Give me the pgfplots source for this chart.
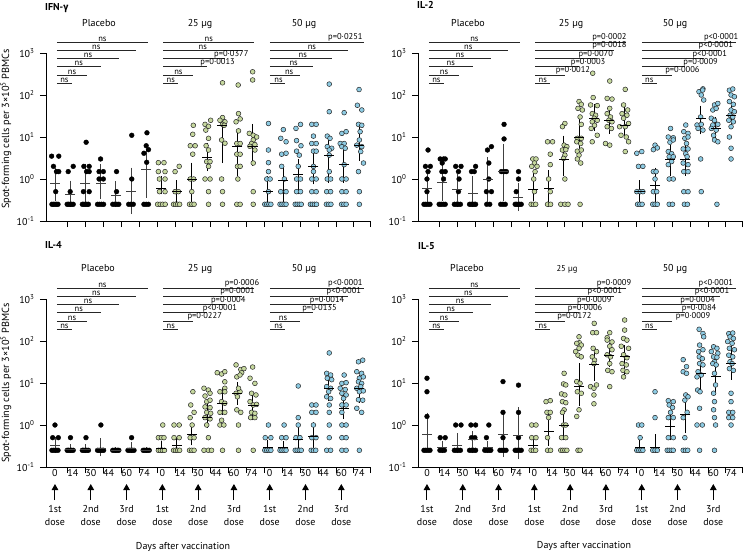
\documentclass[border=0pt]{standalone}
\usepackage{pgfplots}
\pgfplotsset{compat=1.18}
\usepackage{pgfplotstable}
\usetikzlibrary{arrows.meta}
\usepackage{fontspec}
\setmainfont{PT Sans}
\newfontfamily\gam{Fira Sans}
\definecolor{vgreen}{HTML}{C6D89E}
\definecolor{vblue}{HTML}{8DCBE3}

\pgfplotstableread{
x med lo hi
0 0.8 0.35 1.6
1 0.42 0.25 0.78
2 0.8 0.32 2
3 0.8 0.4 1.9
4 0.4 0.25 0.75
5 0.5 0.17 1.6
6 1.7 0.42 4.5
7 0.6 0.5 1
8 0.5 0.3 0.8
9 1 0.25 2.1
10 3.2 1.8 6.2
11 19 2.8 21
12 6 1.35 10.8
13 6 2.4 17.6
14 0.5 0.25 1
15 0.9 0.32 1.6
16 1.3 0.5 2.5
17 2 0.87 4.5
18 3.7 0.95 10.2
19 2.2 0.95 6.5
20 6.2 3.2 14.6
}\medIFN

\pgfplotstableread{
x med lo hi
0 0.6 0.28 1.4
1 0.85 0.35 2.2
2 0.57 0.25 1.1
3 0.45 0.25 1
4 1 0.33 2.9
5 1.5 0.35 5.9
6 0.36 0.2 0.68
7 0.55 0.35 1.25
8 0.6 0.25 1.4
9 3 1.4 9.3
10 10 5 25
11 28 16 52
12 25 14 45
13 19 11 45
14 0.5 0.32 0.8
15 0.7 0.32 1.6
16 3 1.4 5.5
17 3 1.4 6
18 28 13.4 48
19 16 10 26
20 33 18 60
}\medILtwo

\pgfplotstableread{
x med lo hi
0 0.33 0.25 0.45
1 0.26 0.25 0.3
2 0.26 0.25 0.3
3 0.27 0.21 0.42
4 0.25 0.25 0.25
5 0.27 0.25 0.33
6 0.25 0.25 0.25
7 0.28 0.25 0.35
8 0.33 0.25 0.45
9 0.6 0.38 0.9
10 1.5 1 3.2
11 3.2 2 6.5
12 5.5 3.5 9
13 3 1.5 4.5
14 0.3 0.25 0.37
15 0.3 0.25 0.36
16 0.45 0.25 0.75
17 0.52 0.3 1
18 7.5 4.3 11
19 2.5 1.6 4.5
20 7.5 4 13
}\medILfour

\pgfplotstableread{
x med lo hi
0 0.6 0.28 1.7
1 0.3 0.25 0.36
2 0.33 0.25 0.55
3 0.45 0.25 0.62
4 0.3 0.25 0.35
5 0.6 0.2 2
6 0.55 0.18 2.3
7 0.33 0.28 0.4
8 0.7 0.37 2
9 1 0.5 2.2
10 8.5 3.3 25
11 28 13 55
12 45 28 75
13 42 15 68
14 0.3 0.25 0.38
15 0.3 0.25 0.52
16 0.9 0.5 1.5
17 1.8 0.75 4
18 17 6.5 38
19 14 6 32
20 30 14 65
}\medILfive

\pgfplotsset{
  scale only axis, width=324pt, height=182.7pt,
  ymin=0.1, ymax=2238.7, xmin=-0.59, xmax=20.72,
  axis x line*=bottom, axis y line*=left, axis line style={draw=none},
  ytick={0.1,1,10,100,1000},
  yticklabels={10\textsuperscript{-1},10\textsuperscript{0},10\textsuperscript{1},10\textsuperscript{2},10\textsuperscript{3}},
  yminorticks=false, xminorticks=false,
  tick align=outside, major tick length=6pt,
  tick style={black, line width=0.8pt},
  xtick={0.827,2.004,3.181,4.358,5.535,6.712,7.889,9.066,10.243,11.42,12.597,13.774,14.951,16.128,17.305,18.482,19.659,20.72},
  xticklabels={},
  yticklabel style={font=\fontsize{10}{12}\selectfont, xshift=-2pt},
  clip=false,
  ptsPL/.style={only marks, mark=*, mark size=2.4pt, mark options={fill=black, draw=black, line width=0.4pt}},
  ptsGR/.style={only marks, mark=*, mark size=2.4pt, mark options={fill=vgreen, draw=black!85, line width=0.5pt}},
  ptsBL/.style={only marks, mark=*, mark size=2.4pt, mark options={fill=vblue, draw=black!85, line width=0.5pt}},
  medBarStyle/.style={only marks, mark=-, mark size=5pt, mark options={line width=0.9pt},
    error bars/y dir=both, error bars/y explicit, error bars/error mark=-,
    error bars/error mark options={mark size=2.8pt, line width=0.8pt},
    error bars/error bar style={line width=0.8pt}},
}

\newcommand\axlines{%
  \draw[black, line width=0.8pt] (axis cs:-0.59,0.1) -- (axis cs:20.72,0.1);
  \draw[black, line width=0.8pt] (axis cs:-0.59,0.1) -- (axis cs:-0.59,1000);}
\newcommand\meds[1]{%
  \addplot[black!75, skip coords between index={7}{21}, medBarStyle] table[x=x, y=med, y error plus expr=\thisrow{hi}-\thisrow{med}, y error minus expr=\thisrow{med}-\thisrow{lo}] {#1};
  \addplot[black, skip coords between index={0}{7}, medBarStyle] table[x=x, y=med, y error plus expr=\thisrow{hi}-\thisrow{med}, y error minus expr=\thisrow{med}-\thisrow{lo}] {#1};}
\newcommand\sigl[5]{%
  \draw[black!85, line width=0.8pt] (axis cs:#1,#3) -- (axis cs:#2,#3);
  \node[anchor=south, inner sep=0.6pt, font=\fontsize{8.5}{9}\selectfont] at (axis cs:#4,#3) {#5};}
\newcommand\placebosig{%
  \sigl{0.13}{6.1}{1820}{3.12}{ns}
  \sigl{0.13}{5.3}{1150}{2.72}{ns}
  \sigl{0.13}{4.2}{733}{2.17}{ns}
  \sigl{0.13}{3.0}{468}{1.57}{ns}
  \sigl{0.13}{2.1}{295}{1.12}{ns}
  \sigl{0.13}{1.1}{188}{0.62}{ns}}
\newcommand\dosearr[2]{%
  \draw[black, line width=1pt, -{Triangle[width=6.5pt,length=6pt]}] ([yshift=-33pt]axis cs:#1,0.1) -- ([yshift=-17pt]axis cs:#1,0.1);
  \node[anchor=base, inner sep=0pt] at ([yshift=-45pt]axis cs:#1,0.1) {#2};
  \node[anchor=base, inner sep=0pt] at ([yshift=-58pt]axis cs:#1,0.1) {dose};}
\newcommand\allarrows{%
  \dosearr{0}{1st}\dosearr{2.354}{2nd}\dosearr{4.708}{3rd}
  \dosearr{7.062}{1st}\dosearr{9.416}{2nd}\dosearr{11.77}{3rd}
  \dosearr{14.124}{1st}\dosearr{16.478}{2nd}\dosearr{18.832}{3rd}}

\begin{document}
\begin{tikzpicture}[font=\fontsize{10}{12}\selectfont]
\useasboundingbox (0pt,0pt) rectangle (743pt,-554pt);

% ================= IFN-gamma =================
\begin{semilogyaxis}[at={(46pt,-221pt)}, anchor=south west]
\addplot[ptsPL] coordinates {(-0.22,3.5)(0.25,3.5)(-0.1,2)(0.1,1.5)(0.25,1.5)(0.05,0.5)(-0.2,0.25)(-0.1,0.25)(0,0.25)(0.1,0.25)(0.2,0.25)
(1.2,2)(0.87,1.5)(1,0.5)(0.8,0.25)(0.9,0.25)(1,0.25)(1.1,0.25)(1.2,0.25)
(2.05,7.5)(1.9,2)(2.25,2)(2.08,1.5)(2.25,1.5)(1.87,0.5)(2.25,0.5)(1.8,0.25)(1.9,0.25)(2,0.25)(2.1,0.25)(2.2,0.25)
(3,3)(2.9,1.5)(3.18,1.5)(2.9,1)(3.18,1)(2.8,0.25)(2.93,0.25)(3.07,0.25)(3.2,0.25)
(4.05,1.5)(4.05,0.5)(3.8,0.25)(3.93,0.25)(4.07,0.25)(4.2,0.25)
(5.05,11)(5.05,1)(4.85,0.25)(5,0.25)(5.15,0.25)
(6.05,12.6)(6,6.2)(6.15,5)(5.85,4.1)(6.03,2.5)(5.85,0.25)(6,0.25)(6.15,0.25)};
\addplot[ptsGR] coordinates {(6.8,2.45)(7.17,2.45)(6.8,1.5)(7.24,1.5)(6.87,1)(7.24,1)(6.87,0.5)(7.24,0.5)(6.75,0.25)(6.92,0.25)(7.08,0.25)(7.25,0.25)
(8.17,2)(7.9,1.5)(7.9,0.5)(8.12,0.5)(7.8,0.25)(7.93,0.25)(8.07,0.25)(8.2,0.25)
(9.1,19)(9.06,11.6)(8.9,6.2)(9.22,6.2)(9.06,3.9)(8.9,1)(9.12,1)(9,0.5)(8.85,0.25)(9,0.25)(9.15,0.25)
(9.87,20)(10.24,25)(10.1,18)(9.92,14.6)(10.1,9.3)(9.94,6.2)(10.1,4.9)(9.98,2.6)(10.2,2.6)(10.1,2)(9.87,1)(10.2,1)(10.1,0.5)(10.1,0.25)
(11.02,195)(11.02,29)(10.85,25)(11.18,23)(11.02,20)(11.13,19)(10.96,8.5)(11.18,7.1)(10.96,1)(11.02,0.5)(11.02,0.25)
(12.05,173)(12.07,36)(12.18,27)(11.91,23)(12.07,14)(11.96,7)(12.18,7)(11.96,3.9)(12.18,3.9)(12,2)(12.18,2)(12.03,1)(11.96,0.25)(12.18,0.25)
(13,357)(13,228)(12.78,12.2)(13.04,11)(13.26,10)(13.04,8.5)(12.93,7)(13.15,6.6)(12.82,6)(13.15,4.9)(13.04,2.4)(13.04,0.5)(13.04,0.25)};
\addplot[ptsBL] coordinates {(14.04,21)(14.04,4.9)(14.04,2.45)(14.04,1.5)(13.93,1)(14.15,1)(14.04,0.5)(13.8,0.25)(13.93,0.25)(14.07,0.25)(14.2,0.25)
(15.02,15)(14.85,9.3)(15.2,7.7)(14.91,3.9)(15.2,4.1)(14.91,2)(15.09,1)(14.85,0.5)(15.2,0.5)(14.8,0.25)(14.93,0.25)(15.07,0.25)(15.2,0.25)
(15.85,16)(16.15,20)(15.89,8.2)(16.18,6.2)(15.89,4.6)(16.07,3.7)(16,2)(15.89,1)(16.15,1)(15.89,0.5)(16.15,0.5)(15.8,0.25)(15.93,0.25)(16.07,0.25)(16.2,0.25)
(16.89,20)(17.18,20)(17,10.5)(16.89,7)(17.18,7)(17,4.6)(17.18,4.6)(17,2)(17,1.5)(16.89,1)(17.18,1)(16.89,0.5)(17.18,0.5)(16.8,0.25)(16.93,0.25)(17.07,0.25)(17.2,0.25)
(18.04,182)(18.04,40)(17.91,10.5)(18.09,9.3)(17.91,5.9)(18.2,5.4)(18.04,4.9)(18.04,3.7)(18.04,1.5)(17.91,1)(18.13,1)(17.87,0.5)(18.13,0.5)(17.85,0.25)(18,0.25)(18.15,0.25)
(19.02,38)(18.87,12.2)(19.15,13.4)(18.76,7)(19.02,7)(18.87,5.9)(19.09,5.4)(19.02,2.2)(18.87,1)(19.15,1)(18.87,0.5)(19.15,0.5)(18.85,0.25)(19,0.25)(19.15,0.25)
(20,135)(19.89,57)(20.18,44)(19.96,20)(20.18,19)(20.07,13.4)(20.02,8.5)(19.85,6.4)(20.18,5.9)(20.11,4.5)(20.29,2.4)(19.96,1.5)(20.02,0.5)(20.02,0.25)};
\meds{\medIFN}
\axlines
\placebosig
\sigl{7.13}{13.1}{1820}{10.12}{ns}
\sigl{7.13}{12.3}{1150}{9.72}{ns}
\sigl{7.13}{11.2}{733}{11.6}{p=0·0377}
\sigl{7.13}{10.0}{468}{10.7}{p=0·0013}
\sigl{7.13}{9.1}{295}{8.12}{ns}
\sigl{7.13}{8.1}{188}{7.62}{ns}
\sigl{14.13}{20.3}{1820}{19.1}{p=0·0251}
\sigl{14.13}{19.3}{1150}{16.9}{ns}
\sigl{14.13}{18.2}{733}{16.3}{ns}
\sigl{14.13}{17.0}{468}{15.7}{ns}
\sigl{14.13}{16.1}{295}{15.4}{ns}
\sigl{14.13}{15.1}{188}{14.7}{ns}
\end{semilogyaxis}

% ================= IL-2 =================
\begin{semilogyaxis}[at={(418pt,-221pt)}, anchor=south west]
\addplot[ptsPL] coordinates {(0.07,4.9)(-0.1,2)(0.22,2)(0.07,1.5)(0,1)(0,0.5)(-0.2,0.25)(-0.07,0.25)(0.07,0.25)(0.2,0.25)
(0.87,3)(1.09,3)(1.2,3)(1,2.4)(0.98,1.5)(1.2,1.5)(1.09,1)(0.8,0.25)(0.93,0.25)(1.07,0.25)(1.2,0.25)
(1.89,2)(2.24,2)(2.07,1.5)(2.11,1)(2.07,0.5)(1.8,0.25)(1.93,0.25)(2.07,0.25)(2.2,0.25)
(2.93,1.5)(3.11,1.5)(3.2,2)(2.8,0.25)(2.9,0.25)(3,0.25)(3.1,0.25)(3.2,0.25)
(3.98,4.9)(4.24,5.9)(4.07,2.4)(4.07,1)(3.91,0.5)(4.24,0.5)(3.93,0.25)(4.13,0.25)
(5.07,20)(5.07,9)(4.89,1.5)(5.07,1.5)(5.22,1.5)(4.85,0.25)(5,0.25)(5.15,0.25)
(6.02,1.5)(6.02,1)(5.87,0.5)(5.8,0.25)(5.9,0.25)(6,0.25)(6.1,0.25)(6.2,0.25)};
\addplot[ptsGR] coordinates {(6.96,3)(7.17,3)(7.07,2.4)(6.89,2)(7.24,2)(7.11,1.5)(7.02,1)(7.07,0.5)(6.85,0.25)(7,0.25)(7.15,0.25)
(7.93,7.7)(8.26,7.7)(8.11,3.9)(8.11,2.2)(8,1)(8.11,0.5)(7.93,0.25)(8.13,0.25)
(9.07,21)(8.91,17.6)(9.02,6.4)(9.2,5.9)(8.91,4.9)(9.13,5)(9.07,3.7)(8.98,3.1)(9.07,1)(8.8,0.25)(9.07,0.25)(9.28,0.25)
(10,70)(10.15,60)(9.93,48)(10.22,44)(10.07,30)(10.15,20)(9.89,9.3)(10.15,9.3)(9.85,7.7)(10.11,7)(9.89,4.6)(10.15,4.9)(10,3.7)(9.89,3)(10.11,2.4)(10.07,0.25)
(10.9,330)(10.93,87)(10.76,58)(11.2,56)(10.87,36)(11.09,33)(11,28)(10.87,23)(11.2,25)(11.02,19)(10.8,16)(11.2,11)(10.87,7.7)
(12.02,215)(11.85,83)(12.17,80)(12.02,48)(11.85,36)(12.07,30)(11.96,25)(12.17,23)(11.85,17.6)(12.13,16)(11.74,7)(12.02,6.4)
(13.04,136)(12.93,58)(13.2,44)(12.83,36)(13.15,33)(12.93,28)(12.67,17.6)(13.04,17.6)(13.26,21)(12.76,11)(13.11,10)(13.26,7.7)(13.04,4.5)};
\addplot[ptsBL] coordinates {(13.8,4.1)(14.13,4.5)(13.91,2)(14.2,2)(13.8,0.5)(14.02,0.5)(14.2,0.5)(13.85,0.25)(14,0.25)(14.15,0.25)
(15,6.4)(15.15,5.5)(14.89,5)(14.89,1.5)(15.07,1.5)(15,1)(14.89,0.5)(15.11,0.5)(14.85,0.25)(15,0.25)(15.15,0.25)
(16.02,16)(15.87,10)(16.2,9.6)(15.98,7.5)(16.2,8.5)(15.87,4.5)(16.09,4)(15.93,3.4)(16.2,3.4)(16.09,2.6)(15.87,2.2)(15.93,1)(16.2,1)(15.93,0.25)(16.15,0.25)
(17.02,19.3)(16.89,13.4)(17.17,12.2)(16.96,9.3)(17.17,10)(17.07,7)(16.85,5.2)(17.17,5.2)(17.02,4)(17.11,3.4)(16.85,2.4)(17.17,2.2)(16.89,1.5)(17.17,1.5)(16.89,0.5)(17.17,0.5)(16.93,0.25)(17.13,0.25)
(17.89,120)(18.15,140)(18.04,100)(18.2,76)(18.13,131)(18,30)(17.76,19.3)(18.04,20)(17.83,16)(18.15,14.6)(18,3)(18.04,0.5)
(18.91,58)(19.13,63)(18.8,44)(19.02,48)(18.7,28)(18.91,25)(18.8,19.3)(19.13,20)(18.7,16)(19.02,14.6)(18.85,11)(18.91,8.5)(19.13,7.7)(19.07,0.25)
(19.89,130)(20.11,139)(20,100)(20.22,91)(19.89,70)(20.15,60)(20,44)(20.22,40)(19.93,33)(20.11,30)(19.85,25)(20.15,23)(20,17.6)(19.89,10)(20,5.4)(20,3)};
\meds{\medILtwo}
\axlines
\placebosig
\sigl{7.13}{13.1}{1820}{12.0}{p=0·0002}
\sigl{7.13}{12.3}{1150}{12.0}{p=0·0018}
\sigl{7.13}{11.2}{733}{11.1}{p=0·0070}
\sigl{7.13}{10.0}{468}{10.6}{p=0·0003}
\sigl{7.13}{9.1}{295}{9.6}{p=0·0012}
\sigl{7.13}{8.1}{188}{7.62}{ns}
\sigl{14.13}{20.3}{1820}{19.35}{p<0·0001}
\sigl{14.13}{19.3}{1150}{19.0}{p<0·0001}
\sigl{14.13}{18.2}{733}{18.6}{p<0·0001}
\sigl{14.13}{17.0}{468}{18.0}{p=0·0009}
\sigl{14.13}{16.1}{295}{16.8}{p=0·0006}
\sigl{14.13}{15.1}{188}{14.62}{ns}
\end{semilogyaxis}

% ================= IL-4 =================
\begin{semilogyaxis}[at={(46pt,-467pt)}, anchor=south west,
    extra x ticks={0,1.177,2.354,3.531,4.708,5.885,7.062,8.239,9.416,10.593,11.77,12.947,14.124,15.301,16.478,17.655,18.832,20.009},
    extra x tick labels={0,14,30,44,60,74,0,14,30,44,60,74,0,14,30,44,60,74},
    extra x tick style={major tick length=0pt, tick label style={anchor=north, inner sep=0pt, yshift=-2.3pt, font=\fontsize{10}{12}\selectfont}}]
\addplot[ptsPL] coordinates {(0,1)(-0.15,0.5)(0.22,0.5)(-0.2,0.25)(-0.07,0.25)(0.07,0.25)(0.2,0.25)
(1.02,0.5)(0.8,0.25)(0.9,0.25)(1,0.25)(1.1,0.25)(1.2,0.25)
(2.04,0.5)(1.8,0.25)(1.9,0.25)(2,0.25)(2.1,0.25)(2.2,0.25)
(3.02,1)(2.8,0.25)(2.9,0.25)(3,0.25)(3.1,0.25)(3.2,0.25)
(3.8,0.25)(3.9,0.25)(4,0.25)(4.1,0.25)(4.2,0.25)
(5.04,0.5)(4.8,0.25)(4.9,0.25)(5,0.25)(5.1,0.25)(5.2,0.25)
(5.8,0.25)(5.9,0.25)(6,0.25)(6.1,0.25)(6.2,0.25)};
\addplot[ptsGR] coordinates {(7.09,1)(6.8,0.5)(7,0.5)(7.17,0.5)(6.8,0.25)(6.93,0.25)(7.07,0.25)(7.2,0.25)
(7.83,1)(8.17,1)(7.83,0.5)(8.17,0.5)(7.8,0.25)(7.93,0.25)(8.07,0.25)(8.2,0.25)
(9.07,6.2)(8.93,3)(9.15,2)(8.89,1.5)(9.02,1)(8.89,0.5)(9.15,0.5)(8.85,0.25)(9,0.25)(9.15,0.25)
(9.8,7.5)(10.09,6.8)(9.87,4.9)(10.2,5.7)(9.98,3.6)(10.2,3.9)(9.87,2.7)(10.2,2.6)(9.98,2)(10.24,1.9)(9.87,1.5)(10.2,1.4)(9.98,1)(10.09,0.5)(9.8,0.25)(10.09,0.25)(10.3,0.25)
(10.67,17.6)(10.96,16.4)(11.17,18.6)(11.17,10.7)(11.17,7.5)(10.85,6.2)(11.17,6.2)(10.96,3.6)(11.17,3.3)(10.85,2)(11.17,2)(10.96,1.3)(10.85,1)(11.11,1)(11.02,0.25)
(11.91,27)(12.22,21)(12.43,22)(11.96,14)(12.28,17.6)(12.17,15.5)(11.91,5.7)(12.17,6.2)(12.07,7.5)(12,4.7)(11.96,2.3)(12.22,2)(12.07,1)(12.07,0.25)
(13,24)(12.83,13)(13.15,9.8)(12.93,5.7)(13.22,5.2)(12.83,3.6)(13.04,3)(13.26,3.1)(12.93,2)(13.15,1.9)(12.87,1.5)(13.15,1.5)(13.04,0.25)};
\addplot[ptsBL] coordinates {(14.04,1)(13.83,0.5)(14.2,0.5)(13.8,0.25)(13.93,0.25)(14.07,0.25)(14.2,0.25)
(15.07,1)(14.91,0.5)(15.2,0.5)(14.8,0.25)(14.93,0.25)(15.07,0.25)(15.2,0.25)
(16,8.5)(16,1.5)(16,1)(15.85,0.5)(16.11,0.5)(15.8,0.25)(15.93,0.25)(16.07,0.25)(16.2,0.25)
(16.89,3)(17.17,3)(16.89,2)(17.17,2)(17,1)(16.89,0.5)(17.17,0.5)(16.85,0.25)(17,0.25)(17.15,0.25)
(18.04,52)(17.87,17)(18.13,15.5)(17.91,13)(18.2,12)(17.87,8.2)(18.13,7.5)(18,6.2)(17.87,4.7)(18.13,4.3)(18.04,3)(18.04,2)(18.04,1)(18.04,0.5)(17.87,0.25)(18.13,0.25)
(19.02,15.5)(18.87,9.8)(19.15,10.2)(18.76,7.5)(19.09,7)(18.87,5.7)(19.15,5.2)(18.98,4.3)(18.87,3)(19.15,3)(18.87,2)(18.87,1)(19.15,1)(18.87,0.5)(19.15,0.5)(18.87,0.25)(19.15,0.25)
(19.96,32)(20.24,35)(19.85,18.6)(20.17,17)(20.02,13)(20.28,14)(19.96,10.7)(20.17,9.8)(19.85,7.5)(20.11,8.2)(20.02,6.2)(20.28,6.5)(19.96,4)(20.24,3.9)(19.85,2.5)(20.17,2)(20.02,0.25)};
\meds{\medILfour}
\axlines
\placebosig
\sigl{7.13}{13.1}{1820}{12.3}{p=0·0006}
\sigl{7.13}{12.3}{1150}{12.0}{p=0·0001}
\sigl{7.13}{11.2}{733}{11.4}{p=0·0004}
\sigl{7.13}{10.0}{468}{10.85}{p<0·0001}
\sigl{7.13}{9.1}{295}{9.85}{p=0·0227}
\sigl{7.13}{8.1}{188}{7.62}{ns}
\sigl{14.13}{20.3}{1820}{19.1}{p<0·0001}
\sigl{14.13}{19.3}{1150}{19.0}{p<0·0001}
\sigl{14.13}{18.2}{733}{17.9}{p=0·0014}
\sigl{14.13}{17.0}{468}{17.4}{p=0·0135}
\sigl{14.13}{16.1}{295}{15.0}{ns}
\sigl{14.13}{15.1}{188}{14.7}{ns}
\allarrows
\end{semilogyaxis}

% ================= IL-5 =================
\begin{semilogyaxis}[at={(418pt,-467pt)}, anchor=south west,
    extra x ticks={0,1.177,2.354,3.531,4.708,5.885,7.062,8.239,9.416,10.593,11.77,12.947,14.124,15.301,16.478,17.655,18.832,20.009},
    extra x tick labels={0,14,30,44,60,74,0,14,30,44,60,74,0,14,30,44,60,74},
    extra x tick style={major tick length=0pt, tick label style={anchor=north, inner sep=0pt, yshift=-2.3pt, font=\fontsize{10}{12}\selectfont}}]
\addplot[ptsPL] coordinates {(0,13)(0,6.2)(0,1.6)(-0.2,0.25)(-0.07,0.25)(0.07,0.25)(0.2,0.25)
(0.87,0.5)(1.2,0.5)(0.85,0.25)(1,0.25)(1.15,0.25)
(1.89,1)(2.24,1)(1.8,0.25)(1.93,0.25)(2.07,0.25)(2.2,0.25)
(2.89,1)(3.2,1)(2.93,0.5)(3.15,0.5)(2.8,0.25)(2.93,0.25)(3.07,0.25)(3.2,0.25)
(4.07,1)(3.91,0.5)(3.8,0.25)(3.93,0.25)(4.07,0.25)(4.2,0.25)
(5,10.8)(5,2)(5,0.5)(4.8,0.25)(4.93,0.25)(5.07,0.25)(5.2,0.25)
(6.02,8.9)(6.02,2)(6.02,0.5)(5.8,0.25)(5.93,0.25)(6.07,0.25)(6.2,0.25)};
\addplot[ptsGR] coordinates {(6.89,1)(7.17,1)(6.89,0.5)(7.17,0.5)(6.85,0.25)(7,0.25)(7.15,0.25)
(7.83,3.6)(8.11,3.8)(7.89,2)(8.11,2)(8,1.5)(7.93,0.5)(7.93,0.25)(8.13,0.25)
(9.02,17)(8.98,9.5)(9.13,9)(8.85,5.5)(9.07,5.2)(8.91,3.6)(9.13,3.4)(9.02,2.3)(8.91,2)(8.98,1)(9.13,1)(8.85,0.5)(9.13,0.5)(8.8,0.25)(8.93,0.25)(9.07,0.25)(9.2,0.25)
(10,126)(10.02,91)(9.85,88)(10.15,80)(10,67)(9.78,56)(9.93,46)(10.15,42)(9.85,10.8)(10.07,9.8)(9.89,6.2)(10.15,5.7)(10,2.3)(9.85,1.6)(9.93,0.25)(10.07,0.25)
(11,263)(10.9,158)(11.15,158)(10.93,67)(11.15,56)(10.87,42)(11.02,35)(10.98,29)(10.76,8.2)(10.98,7.5)(11.15,9)(10.98,5.2)(10.98,3.2)
(12.02,158)(11.85,120)(11.85,105)(12.17,95)(12.02,75)(12.17,62)(11.85,47)(12.07,42)(12.02,29)(11.89,20)(12.17,18.6)(12.02,8.2)
(13,316)(13,182)(12.93,115)(13.15,105)(12.78,75)(13.26,67)(12.93,47)(13.15,40)(12.83,29)(13.11,27)(12.89,20)(13.15,18.6)(12.93,14)};
\addplot[ptsBL] coordinates {(13.91,1)(14.13,1)(14.02,0.5)(13.8,0.25)(13.93,0.25)(14.07,0.25)(14.2,0.25)
(15,6.2)(15,1.5)(14.85,0.25)(15,0.25)(15.15,0.25)
(15.87,3.8)(16.2,3.6)(15.93,3)(16.15,2.6)(16.02,2)(15.87,1.5)(16.2,1.5)(15.87,0.5)(16.2,0.5)(15.8,0.25)(15.93,0.25)(16.07,0.25)(16.2,0.25)
(16.85,36)(17.07,24.5)(16.85,18.6)(17.07,17)(17.02,5.2)(17.17,4.7)(16.96,3.9)(17.11,2)(16.85,1.5)(16.96,0.5)(16.85,0.25)(17,0.25)(17.15,0.25)
(17.9,190)(18.15,151)(18.2,126)(17.93,80)(18.15,62)(17.87,56)(17.91,42)(18.11,38)(17.93,29)(18.15,27)(17.83,18.6)(17.76,14)(18.04,15.5)(17.8,6.8)(17.96,6.2)(17.93,2.5)(17.76,1)(18.11,1)(17.93,0.25)
(18.85,73)(19.07,67)(18.7,56)(19.13,51)(18.85,42)(19.07,41)(18.91,32)(18.8,29)(19.02,27)(18.91,17)(18.98,9)(18.85,5.7)(18.91,3.6)(18.85,2.3)(18.91,1.5)(18.98,1)(18.91,0.25)
(19.85,150)(20.11,155)(19.93,126)(20.15,115)(19.78,97)(20.07,88)(19.89,67)(20.22,62)(19.85,46)(20.11,42)(19.93,32)(20.07,29)(19.89,22)(20.15,20)(20,5.7)(20,3.6)(19.85,2)(20.11,2)(19.85,1.5)(20.11,1.5)(20,1)};
\meds{\medILfive}
\axlines
\placebosig
\sigl{7.13}{13.1}{1820}{12.3}{p=0·0009}
\sigl{7.13}{12.3}{1150}{11.7}{p<0·0001}
\sigl{7.13}{11.2}{733}{11.0}{p=0·0009}
\sigl{7.13}{10.0}{468}{10.4}{p=0·0006}
\sigl{7.13}{9.1}{295}{9.7}{p=0·0172}
\sigl{7.13}{8.1}{188}{7.62}{ns}
\sigl{14.13}{20.3}{1820}{19.0}{p<0·0001}
\sigl{14.13}{19.3}{1150}{18.75}{p<0·0001}
\sigl{14.13}{18.2}{733}{17.8}{p=0·0004}
\sigl{14.13}{17.0}{468}{17.9}{p=0·0084}
\sigl{14.13}{16.1}{295}{17.5}{p=0·0009}
\sigl{14.13}{15.1}{188}{14.62}{ns}
\allarrows
\end{semilogyaxis}

% ================= texts =================
\node[anchor=base west, inner sep=0pt, font=\fontsize{10}{12}\selectfont\bfseries] at (45pt,-10.5pt) {IFN-{\gam γ}};
\node[anchor=base west, inner sep=0pt, font=\fontsize{10}{12}\selectfont\bfseries] at (417pt,-8.5pt) {IL-2};
\node[anchor=base west, inner sep=0pt, font=\fontsize{10}{12}\selectfont\bfseries] at (45pt,-248pt) {IL-4};
\node[anchor=base west, inner sep=0pt, font=\fontsize{10}{12}\selectfont\bfseries] at (418pt,-249pt) {IL-5};

\node[anchor=base, inner sep=0pt] at (99pt,-26pt) {Placebo};
\node[anchor=base, inner sep=0pt] at (200pt,-26pt) {25 µg};
\node[anchor=base, inner sep=0pt] at (304pt,-26pt) {50 µg};
\node[anchor=base, inner sep=0pt] at (468pt,-26pt) {Placebo};
\node[anchor=base, inner sep=0pt] at (571pt,-26pt) {25 µg};
\node[anchor=base, inner sep=0pt] at (675pt,-26pt) {50 µg};
\node[anchor=base, inner sep=0pt] at (98pt,-271pt) {Placebo};
\node[anchor=base, inner sep=0pt] at (200pt,-271pt) {25 µg};
\node[anchor=base, inner sep=0pt] at (304pt,-271pt) {50 µg};
\node[anchor=base, inner sep=0pt] at (467pt,-271pt) {Placebo};
\node[anchor=base, inner sep=0pt, font=\fontsize{8.5}{10}\selectfont] at (567pt,-271pt) {25 µg};
\node[anchor=base, inner sep=0pt] at (675pt,-271pt) {50 µg};

\node[rotate=90, inner sep=0pt, font=\fontsize{10.3}{12}\selectfont] at (6pt,-129pt) {Spot-forming cells per 3×10\textsuperscript{5} PBMCs};
\node[rotate=90, inner sep=0pt, font=\fontsize{10.3}{12}\selectfont] at (6pt,-383pt) {Spot-forming cells per 3×10\textsuperscript{5} PBMCs};

\node[anchor=base, inner sep=0pt] at (183pt,-549pt) {Days after vaccination};
\node[anchor=base, inner sep=0pt] at (584pt,-548pt) {Days after vaccination};
\end{tikzpicture}
\end{document}
